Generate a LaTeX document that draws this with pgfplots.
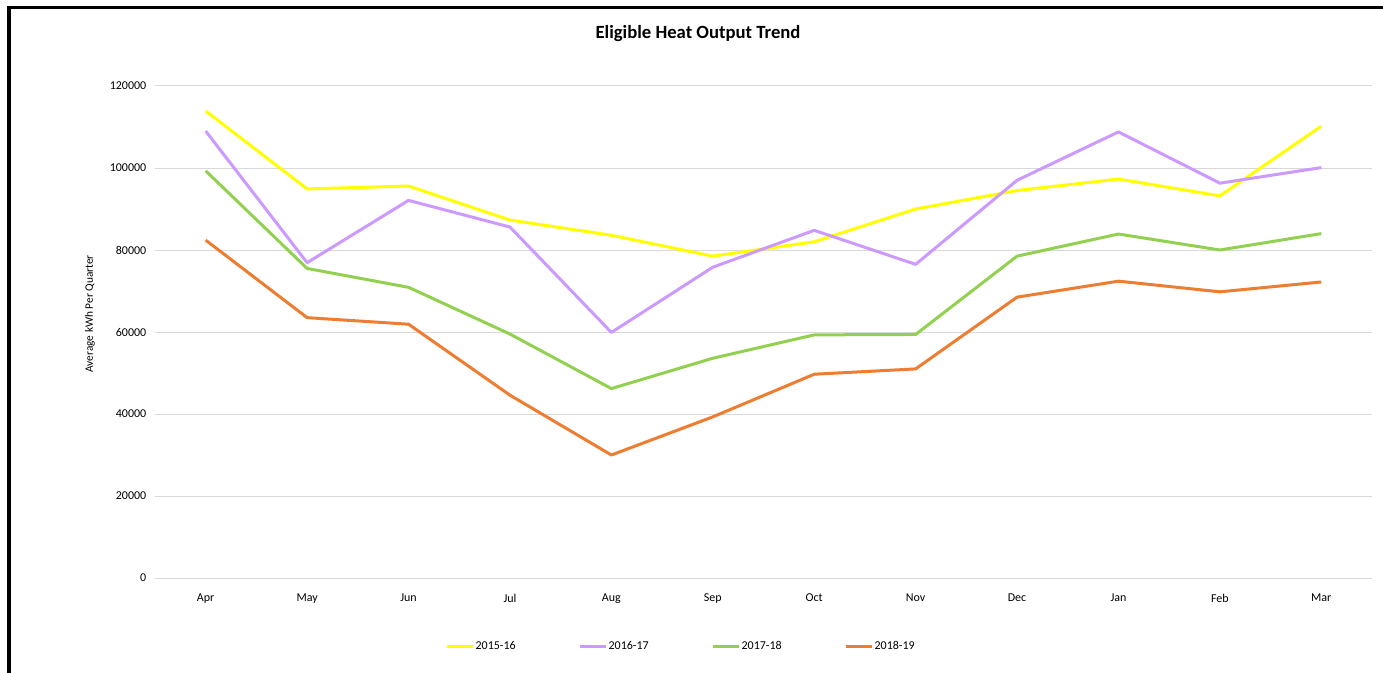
\documentclass[border=0pt]{standalone}
\usepackage{fontspec}
\setmainfont{Carlito}
\usepackage{pgfplots}
\pgfplotsset{compat=1.18}
\definecolor{cY}{HTML}{FFFF00}
\definecolor{cP}{HTML}{CC99FF}
\definecolor{cG}{HTML}{92D050}
\definecolor{cO}{HTML}{ED7D31}
\definecolor{gridc}{HTML}{D9D9D9}
\begin{document}
\begin{tikzpicture}[x=0.75pt,y=0.75pt]
\path[use as bounding box] (0,0) rectangle (1383,672);
\begin{scope}
\clip (0,0) rectangle (1383,672);
\draw[line width=2.5pt] (9,-20) -- (9,664.4) -- (1400,664.4);
\end{scope}
\node[font=\fontsize{14}{16}\selectfont\bfseries] at (698,638) {Eligible Heat Output Trend};
\begin{axis}[
  at={(116.25pt,70.5pt)}, anchor=south west,
  scale only axis, width=912.75pt, height=369pt,
  xmin=-0.5, xmax=11.5, ymin=0, ymax=120000,
  xtick={0,...,11},
  xticklabels={Apr,May,Jun,Jul,Aug,Sep,Oct,Nov,Dec,Jan,Feb,Mar},
  ytick={0,20000,...,120000},
  scaled y ticks=false,
  yticklabel style={/pgf/number format/.cd, fixed, precision=0, 1000 sep={}, assume math mode=true, /tikz/xshift=-3pt},
  ymajorgrids, grid style={gridc, line width=0.75pt},
  axis line style={draw=none}, tick style={draw=none},
  ticklabel style={font=\fontsize{9}{11}\selectfont},
  xticklabel style={yshift=-8.25pt},
  ylabel={Average kWh Per Quarter},
  ylabel style={font=\fontsize{8.5}{10}\selectfont, at={(rel axis cs:-0.0534,0.537)}, anchor=center},
  legend columns=4,
  legend style={draw=none, fill=none, at={(0.235,-0.140)}, anchor=west,
    font=\fontsize{9}{11}\selectfont,
    nodes={inner xsep=1pt, text width=76pt, align=left},
    column sep=0pt},
  legend image code/.code={\draw[#1, line width=2.25pt] (0pt,0pt) -- (19.5pt,0pt);},
  every axis plot/.append style={line width=2.25pt, line join=round},
]
\addplot[cY] coordinates {(0,113900)(1,94900)(2,95600)(3,87300)(4,83600)(5,78500)(6,82000)(7,90000)(8,94500)(9,97300)(10,93200)(11,110200)};
\addlegendentry{2015-16}
\addplot[cP] coordinates {(0,109000)(1,76900)(2,92100)(3,85600)(4,59900)(5,75800)(6,84800)(7,76500)(8,97000)(9,108800)(10,96300)(11,100100)};
\addlegendentry{2016-17}
\addplot[cG] coordinates {(0,99300)(1,75500)(2,70900)(3,59500)(4,46200)(5,53600)(6,59300)(7,59400)(8,78500)(9,83900)(10,80000)(11,84000)};
\addlegendentry{2017-18}
\addplot[cO] coordinates {(0,82400)(1,63500)(2,61900)(3,44600)(4,30000)(5,39300)(6,49700)(7,51000)(8,68500)(9,72400)(10,69800)(11,72200)};
\addlegendentry{2018-19}
\end{axis}
\end{tikzpicture}
\end{document}
